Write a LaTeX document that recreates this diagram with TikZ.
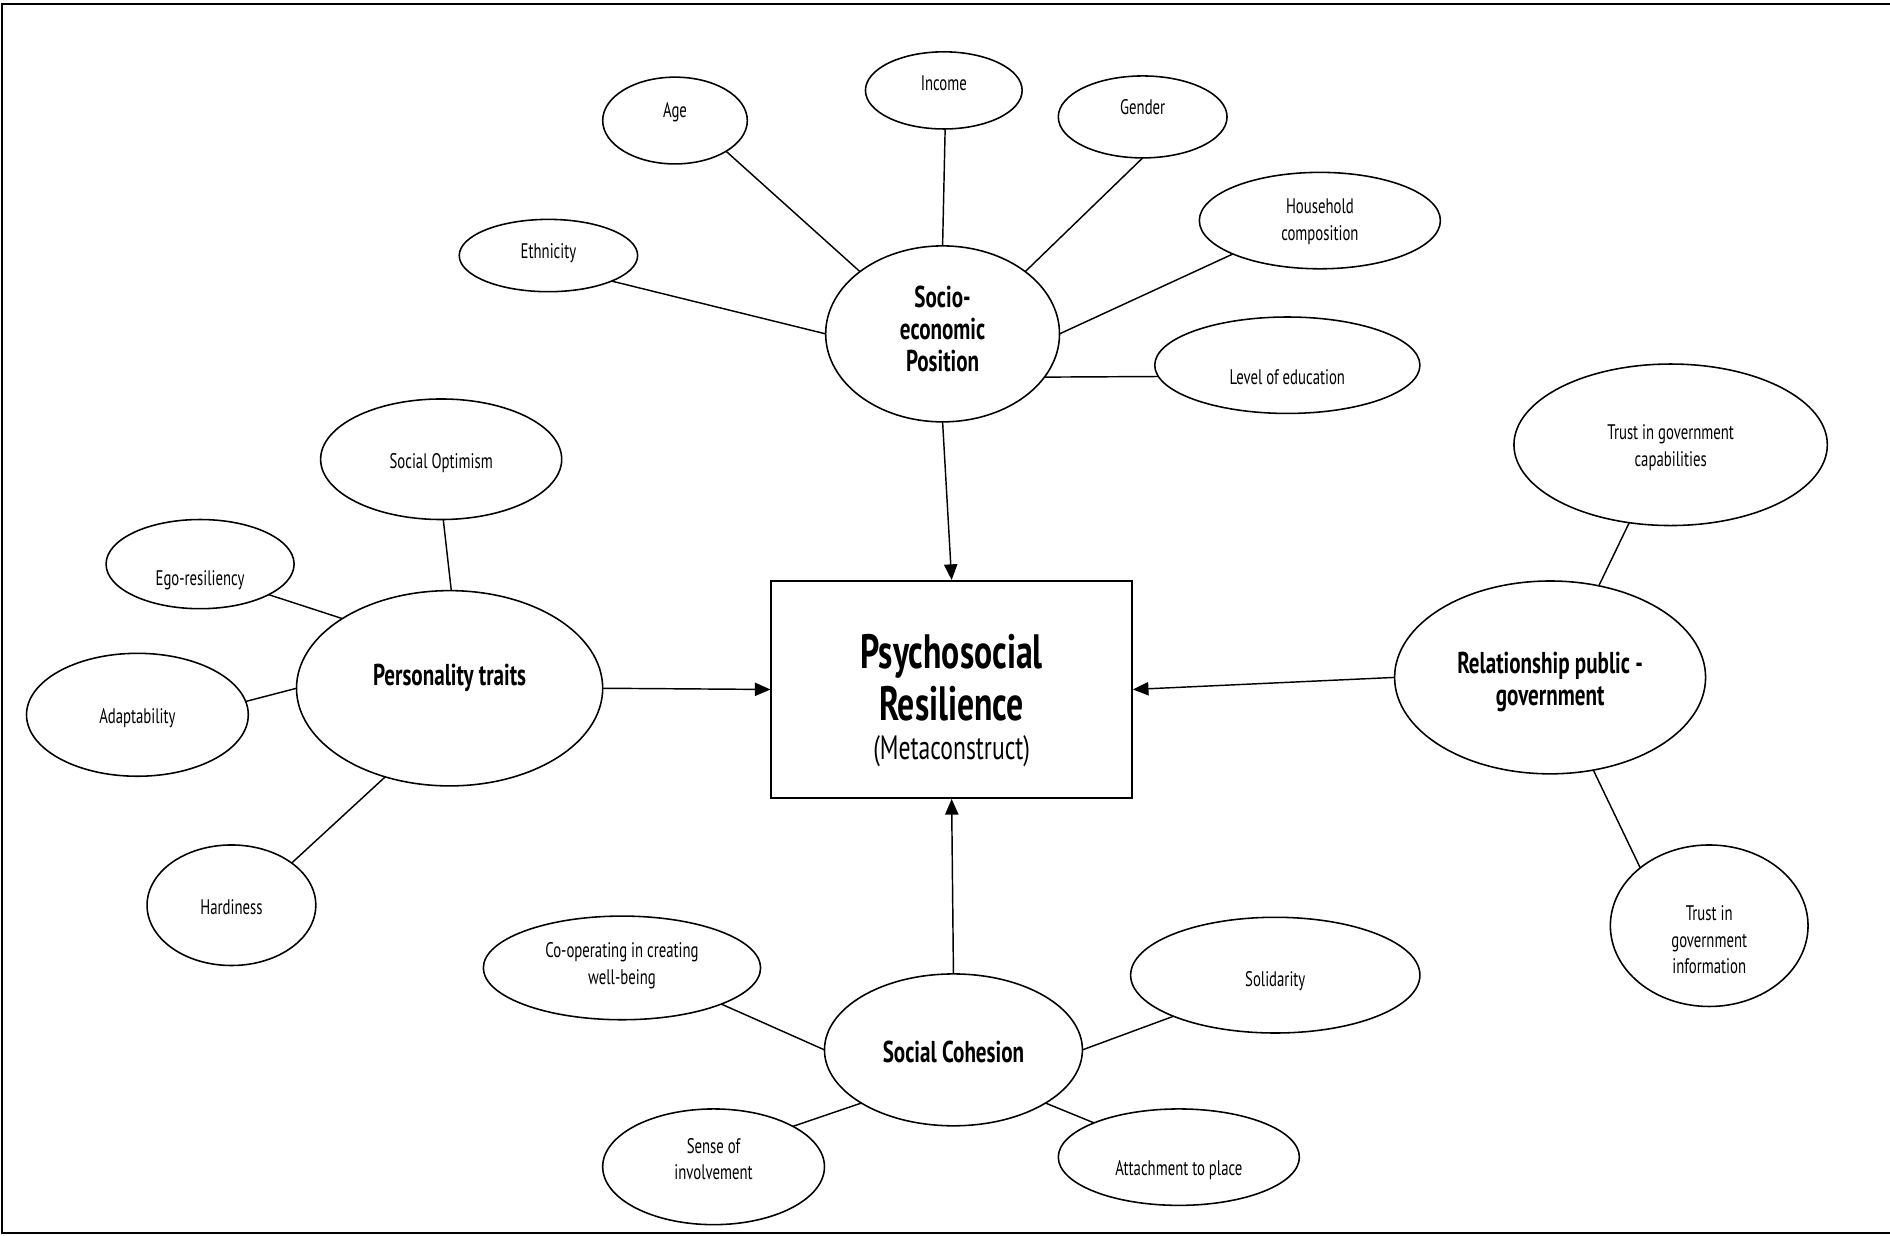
\documentclass[tikz,border=0pt]{standalone}
\usepackage{fontspec}
\setmainfont{PT Sans}[FakeStretch=0.7]
\usetikzlibrary{shapes.geometric,arrows.meta}

\tikzset{
  bub/.style={ellipse, draw, line width=1.3pt, inner sep=0pt, outer sep=0pt},
  lab/.style={font=\fontsize{17.5}{22}\selectfont, align=center, inner sep=0pt,
              execute at begin node=\strut, execute at end node=\strut},
  hd/.style={font=\fontsize{25}{26.5}\selectfont\bfseries, align=center, inner sep=0pt,
             execute at begin node=\strut, execute at end node=\strut},
  link/.style={line width=1.2pt},
  arr/.style={line width=1.2pt, -{Triangle[length=13pt,width=11pt]}},
  core/.style={draw, line width=1.6pt, minimum width=299pt, minimum height=180pt,
               inner sep=0pt},
}

\begin{document}
\begin{tikzpicture}[x=1pt,y=-1pt]
\useasboundingbox (0,0) rectangle (1568,1025);
\draw[line width=1.8pt] (1.7,3.3) rectangle (1580,1023);

% central construct
\node[core] (pr) at (789.5,572) {};
\node[inner sep=0pt, align=center, font=\fontsize{40}{43}\selectfont\bfseries,
      execute at begin node=\strut, execute at end node=\strut]
      (pr-t) at (789.5,568.5) {Psychosocial\\Resilience};
\node[inner sep=0pt, font=\fontsize{28}{34}\selectfont,
      execute at begin node=\strut, execute at end node=\strut]
      (pr-s) at (789.5,623) {(Metaconstruct)};

% socio-economic position
\node[bub, minimum width=194, minimum height=146] (sep) at (782,277) {};
\node[hd] (sep-t) at (782,276.5) {Socio-\\economic\\Position};
\node[bub, minimum width=130, minimum height=64] (inc) at (783,75) {};
\node[lab] (inc-t) at (783,71) {Income};
\node[bub, minimum width=120, minimum height=72] (age) at (560,100) {};
\node[lab] (age-t) at (560,93) {Age};
\node[bub, minimum width=140, minimum height=68] (gen) at (948,97) {};
\node[lab] (gen-t) at (948,91) {Gender};
\node[bub, minimum width=148, minimum height=60] (eth) at (455,212) {};
\node[lab] (eth-t) at (455,210) {Ethnicity};
\node[bub, minimum width=200, minimum height=80] (hh) at (1095,183) {};
\node[lab] (hh-t) at (1095,185.5) {Household\\composition};
\node[bub, minimum width=220, minimum height=80] (edu) at (1068,303) {};
\node[lab] (edu-t) at (1068,315) {Level of education};

\draw[link] (age.-31.5) -- (sep.143.4);
\draw[link] (inc.-88) -- (sep.90);
\draw[link] (gen.-90) -- (sep.37.4);
\draw[link] (eth.-22.7) -- (sep.180);
\draw[link] (hh.201.8) -- (sep.0);
\draw[link] (edu.185.7) -- (sep.-23.8);
\draw[arr] (sep.-90) -- (pr.north);

% personality traits
\node[bub, minimum width=254, minimum height=162] (pt) at (373,571) {};
\node[hd] (pt-t) at (373,563.5) {Personality traits};
\node[bub, minimum width=200, minimum height=100] (opt) at (366,381) {};
\node[lab] (opt-t) at (366,384) {Social Optimism};
\node[bub, minimum width=156, minimum height=74] (ego) at (166,468) {};
\node[lab] (ego-t) at (166,481) {Ego-resiliency};
\node[bub, minimum width=184, minimum height=102] (ada) at (114,593) {};
\node[lab] (ada-t) at (114,596) {Adaptability};
\node[bub, minimum width=140, minimum height=100] (har) at (192,751) {};
\node[lab] (har-t) at (192,754) {Hardiness};

\draw[link] (opt.-88) -- (pt.89);
\draw[link] (ego.-24.9) -- (pt.147.1);
\draw[link] (ada.7.1) -- (pt.180.5);
\draw[link] (har.35.5) -- (pt.-126);
\draw[arr] (pt.0) -- (pr.west);

% relationship public - government
\node[bub, minimum width=258, minimum height=160] (rpg) at (1286,562) {};
\node[hd] (rpg-t) at (1286,567) {Relationship public -\\government};
\node[bub, minimum width=260, minimum height=134] (tgc) at (1386,369) {};
\node[lab] (tgc-t) at (1386,373) {Trust in government\\capabilities};
\node[bub, minimum width=164, minimum height=134] (tgi) at (1418,768) {};
\node[lab] (tgi-t) at (1418,783) {Trust in\\government\\information};

\draw[link] (tgc.-118) -- (rpg.62.5);
\draw[link] (tgi.140.4) -- (rpg.-65.5);
\draw[arr] (rpg.180) -- (pr.east);

% social cohesion
\node[bub, minimum width=214, minimum height=126] (sc) at (791,871) {};
\node[hd] (sc-t) at (791,876) {Social Cohesion};
\node[bub, minimum width=230, minimum height=86] (coop) at (516,803) {};
\node[lab] (coop-t) at (516,802.5) {Co-operating in creating\\well-being};
\node[bub, minimum width=240, minimum height=96] (sol) at (1058,809) {};
\node[lab] (sol-t) at (1058,814) {Solidarity};
\node[bub, minimum width=184, minimum height=96] (inv) at (592,968) {};
\node[lab] (inv-t) at (592,965) {Sense of\\involvement};
\node[bub, minimum width=200, minimum height=80] (att) at (978,960) {};
\node[lab] (att-t) at (978,971) {Attachment to place};

\draw[link] (coop.-20.3) -- (sc.180);
\draw[link] (sol.202.4) -- (sc.0);
\draw[link] (inv.27.3) -- (sc.210.4);
\draw[link] (att.158.5) -- (sc.-30.4);
\draw[arr] (sc.90) -- (pr.south);
\end{tikzpicture}
\end{document}
